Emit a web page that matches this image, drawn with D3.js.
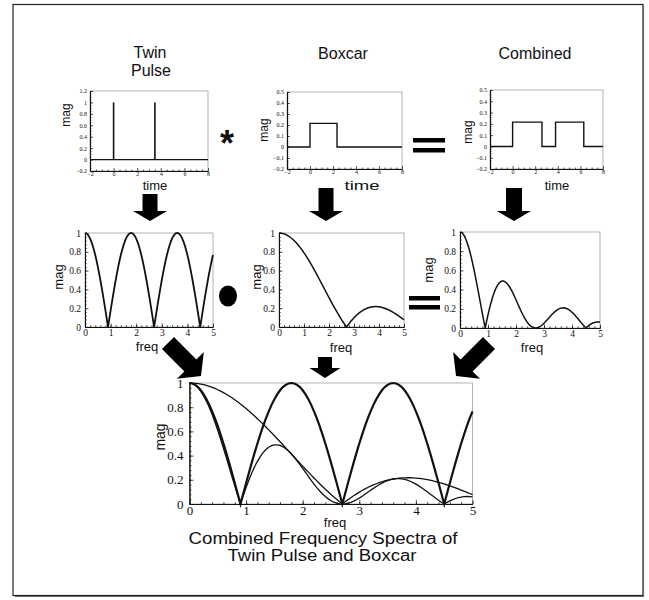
<!DOCTYPE html>
<html>
<head>
<meta charset="utf-8">
<script src="https://cdn.jsdelivr.net/npm/d3@7"></script>
<style>
  body { margin: 0; background: #fff; }
  svg text { font-family: "Liberation Sans", Arial, sans-serif; fill: #111; }
</style>
</head>
<body>
<svg id="fig" width="649" height="600"></svg>
<script>
// ---- tick values ----
const timeTicks = [-2, 0, 2, 4, 6, 8];
const timeMinor = [-1.5, -1, -0.5, 0.5, 1, 1.5, 2.5, 3, 3.5, 4.5, 5, 5.5, 6.5, 7, 7.5];
const pulseMagTicks = [-0.2, 0, 0.2, 0.4, 0.6, 0.8, 1, 1.2];
const boxMagTicks = [-0.2, -0.1, 0, 0.1, 0.2, 0.3, 0.4, 0.5];
const freqTicks = [0, 1, 2, 3, 4, 5];
const freqMagTicks = [0, 0.2, 0.4, 0.6, 0.8, 1];

// ---- time-domain signals ----
const pulseTimes = [0, 3.5];
const pulseHeights = [1, 1];
const boxcarTime = [-2, 0, 0, 2.35, 2.35, 8];
const boxcarMag  = [0, 0, 0.215, 0.215, 0, 0];
const combinedTime = [-2, 0, 0, 2.6, 2.6, 3.8, 3.8, 6.3, 6.3, 8];
const combinedMag  = [0, 0, 0.215, 0.215, 0, 0, 0.215, 0.215, 0, 0];

// ---- frequency spectra, sampled every 0.05 from 0 to 5 ----
const freqStep = 0.05;
const twinPulseSpectrum = [
  1, .9962, .9848, .9659, .9397, .9063, .8660, .8192, .7660, .7071, .6428, .5736, .5, .4226, .3420, .2588, .1736, .0872, 0,
  .0872, .1736, .2588, .3420, .4226, .5, .5736, .6428, .7071, .7660, .8192, .8660, .9063, .9397, .9659, .9848, .9962, 1,
  .9962, .9848, .9659, .9397, .9063, .8660, .8192, .7660, .7071, .6428, .5736, .5, .4226, .3420, .2588, .1736, .0872, 0,
  .0872, .1736, .2588, .3420, .4226, .5, .5736, .6428, .7071, .7660, .8192, .8660, .9063, .9397, .9659, .9848, .9962, 1,
  .9962, .9848, .9659, .9397, .9063, .8660, .8192, .7660, .7071, .6428, .5736, .5, .4226, .3420, .2588, .1736, .0872, 0,
  .0872, .1736, .2588, .3420, .4226, .5, .5736, .6428, .7071, .7660
];
const boxcarSpectrum = [
  1, .9994, .9977, .9949, .9910, .9860, .9798, .9726, .9643, .9549,
  .9445, .9332, .9207, .9073, .8931, .8778, .8617, .8448, .8270, .8084,
  .7891, .7692, .7485, .7272, .7053, .6829, .6600, .6366, .6128, .5887,
  .5642, .5395, .5146, .4895, .4642, .4389, .4135, .3881, .3628, .3376,
  .3126, .2877, .2631, .2387, .2147, .1910, .1677, .1449, .1225, .1006,
  .0793, .0585, .0384, .0189, 0, .0182, .0356, .0524, .0683, .0836,
  .0980, .1116, .1244, .1364, .1476, .1579, .1674, .1760, .1839, .1908,
  .1970, .2023, .2067, .2104, .2133, .2154, .2167, .2172, .2170, .2161,
  .2145, .2122, .2093, .2057, .2015, .1968, .1915, .1857, .1794, .1726,
  .1654, .1578, .1499, .1416, .1330, .1242, .1151, .1058, .0964, .0868,
  .0771
];
const combinedSpectrum = [
  1, .9956, .9825, .9610, .9312, .8936, .8485, .7968, .7387, .6752,
  .6071, .5353, .4604, .3834, .3054, .2272, .1496, .0737, 0, .0705,
  .1370, .1991, .2560, .3073, .3527, .3917, .4242, .4501, .4694, .4823,
  .4886, .4889, .4836, .4728, .4571, .4372, .4135, .3866, .3573, .3261,
  .2937, .2607, .2278, .1955, .1645, .1351, .1078, .0831, .0613, .0425,
  .0271, .0151, .0067, .0016, 0, .0016, .0062, .0136, .0234, .0353,
  .0490, .0640, .0800, .0964, .1131, .1294, .1450, .1595, .1728, .1843,
  .1940, .2015, .2067, .2096, .2101, .2081, .2036, .1968, .1879, .1770,
  .1643, .1500, .1345, .1180, .1008, .0832, .0655, .0481, .0311, .0151,
  0, .0138, .0260, .0366, .0455, .0525, .0576, .0607, .0620, .0614,
  .0591
];

const svg = d3.select("#fig");
const INK = "#111";

// outer frame
svg.append("rect").attr("x", 13).attr("y", 4.5).attr("width", 630).attr("height", 591)
  .attr("fill", "none").attr("stroke", "#222").attr("stroke-width", 1.2);
svg.append("path").attr("d", "M643.5,6 V596.5 H15")
  .attr("fill", "none").attr("stroke", "#666").attr("stroke-width", 1.2);

function minorTicks(domain, step) {
  const out = [];
  for (let v = domain[0]; v <= domain[1] + 1e-9; v += step) out.push(+v.toFixed(4));
  return out;
}

function panel(c) {
  const g = svg.append("g");
  const x = d3.scaleLinear().domain(c.xDomain).range([c.left, c.right]);
  const y = d3.scaleLinear().domain(c.yDomain).range([c.bottom, c.top]);
  g.append("rect").attr("x", c.left).attr("y", c.top)
    .attr("width", c.right - c.left).attr("height", c.bottom - c.top)
    .attr("fill", "none").attr("stroke", "#a0a0a0").attr("stroke-width", 0.8);

  const gx = g.append("g").attr("transform", `translate(0,${c.bottom})`);
  gx.call(d3.axisBottom(x).tickValues(c.xMinor).tickSize(-c.minorLen).tickSizeOuter(0).tickFormat(""));
  gx.append("g").call(d3.axisBottom(x).tickValues(c.xTicks).tickSize(-c.majorLen).tickSizeOuter(0)
    .tickPadding(c.xPad).tickFormat(d3.format("")));
  const gy = g.append("g").attr("transform", `translate(${c.left},0)`);
  gy.call(d3.axisLeft(y).tickValues(c.yMinor).tickSize(-c.minorLen).tickSizeOuter(0).tickFormat(""));
  gy.append("g").call(d3.axisLeft(y).tickValues(c.yTicks).tickSize(-c.majorLen).tickSizeOuter(0)
    .tickPadding(c.yPad).tickFormat(d3.format("")));

  g.selectAll(".domain").attr("stroke", INK).attr("stroke-width", 0.9);
  g.selectAll(".tick line").attr("stroke", INK).attr("stroke-width", 0.7);
  g.selectAll(".tick text").style("font-family", '"Liberation Serif", "Times New Roman", serif')
    .style("font-size", c.tickFont + "px").attr("fill", c.tickColor || "#222");
  return { g, x, y };
}

function label(txt, cx, cy, size, opts = {}) {
  const t = svg.append("text").text(txt)
    .attr("text-anchor", "middle").attr("dominant-baseline", "central")
    .style("font-size", size + "px");
  if (opts.rotate) t.attr("transform", `translate(${cx},${cy}) rotate(-90)`);
  else t.attr("x", cx).attr("y", cy);
  if (opts.width) t.attr("textLength", opts.width).attr("lengthAdjust", "spacingAndGlyphs");
  return t;
}

function arrow(x1, y1, x2, y2, shaftW, headW, headL) {
  const dx = x2 - x1, dy = y2 - y1, L = Math.hypot(dx, dy);
  const ux = dx / L, uy = dy / L, px = -uy, py = ux;
  const bx = x2 - ux * headL, by = y2 - uy * headL;
  const pts = [
    [x1 + px * shaftW / 2, y1 + py * shaftW / 2],
    [bx + px * shaftW / 2, by + py * shaftW / 2],
    [bx + px * headW / 2, by + py * headW / 2],
    [x2, y2],
    [bx - px * headW / 2, by - py * headW / 2],
    [bx - px * shaftW / 2, by - py * shaftW / 2],
    [x1 - px * shaftW / 2, y1 - py * shaftW / 2]
  ];
  svg.append("polygon").attr("points", pts.map(p => p.join(",")).join(" ")).attr("fill", "#000");
}

// ---------- top row: time domain ----------
const topCommon = {
  xDomain: [-2, 8], xTicks: timeTicks, xMinor: timeMinor,
  majorLen: 3, minorLen: 1.5, xPad: 1, yPad: 3, tickFont: 6, tickColor: "#444"
};

const p1 = panel(Object.assign({}, topCommon, {
  left: 90, right: 208, top: 91, bottom: 171,
  yDomain: [-0.2, 1.2], yTicks: pulseMagTicks, yMinor: minorTicks([-0.2, 1.2], 0.05)
}));
p1.g.append("line").attr("x1", p1.x(-2)).attr("x2", p1.x(8)).attr("y1", p1.y(0)).attr("y2", p1.y(0))
  .attr("stroke", INK).attr("stroke-width", 1.3);
p1.g.selectAll(".pulse").data(pulseTimes).join("line")
  .attr("x1", d => p1.x(d)).attr("x2", d => p1.x(d))
  .attr("y1", p1.y(0)).attr("y2", (d, i) => p1.y(pulseHeights[i]))
  .attr("stroke", INK).attr("stroke-width", 1.6);

const timeLine = (p, t, m) => d3.line().x((d, i) => p.x(t[i])).y(d => p.y(d))(m);

const p2 = panel(Object.assign({}, topCommon, {
  left: 287, right: 402, top: 92, bottom: 169,
  yDomain: [-0.2, 0.5], yTicks: boxMagTicks, yMinor: minorTicks([-0.2, 0.5], 0.02)
}));
p2.g.append("path").attr("d", timeLine(p2, boxcarTime, boxcarMag))
  .attr("fill", "none").attr("stroke", INK).attr("stroke-width", 1.4);

const p3 = panel(Object.assign({}, topCommon, {
  left: 490, right: 603, top: 90, bottom: 169,
  yDomain: [-0.2, 0.5], yTicks: boxMagTicks, yMinor: minorTicks([-0.2, 0.5], 0.02)
}));
p3.g.append("path").attr("d", timeLine(p3, combinedTime, combinedMag))
  .attr("fill", "none").attr("stroke", INK).attr("stroke-width", 1.4);

// ---------- middle row: spectra ----------
const midCommon = {
  xDomain: [0, 5], xTicks: freqTicks, xMinor: minorTicks([0, 5], 0.2),
  yDomain: [0, 1], yTicks: freqMagTicks, yMinor: minorTicks([0, 1], 0.04),
  majorLen: 3.5, minorLen: 1.8, xPad: 2, yPad: 4, tickFont: 9.5
};
const specLine = (p) => d3.line().x((d, i) => p.x(i * freqStep)).y(d => p.y(d));

const p4 = panel(Object.assign({}, midCommon, { left: 85, right: 213, top: 233, bottom: 327 }));
p4.g.append("path").attr("d", specLine(p4)(twinPulseSpectrum))
  .attr("fill", "none").attr("stroke", INK).attr("stroke-width", 1.8);

const p5 = panel(Object.assign({}, midCommon, { left: 279, right: 404, top: 233, bottom: 327 }));
p5.g.append("path").attr("d", specLine(p5)(boxcarSpectrum))
  .attr("fill", "none").attr("stroke", INK).attr("stroke-width", 1.5);

const p6 = panel(Object.assign({}, midCommon, { left: 460, right: 600, top: 232, bottom: 328 }));
p6.g.append("path").attr("d", specLine(p6)(combinedSpectrum))
  .attr("fill", "none").attr("stroke", INK).attr("stroke-width", 1.5);

// ---------- bottom: all three spectra together ----------
const p7 = panel(Object.assign({}, midCommon, {
  left: 189.5, right: 472.5, top: 383, bottom: 504,
  majorLen: 4, minorLen: 2, xPad: 2, yPad: 6, tickFont: 13
}));
p7.g.append("path").attr("d", specLine(p7)(twinPulseSpectrum))
  .attr("fill", "none").attr("stroke", INK).attr("stroke-width", 2.2);
p7.g.append("path").attr("d", specLine(p7)(boxcarSpectrum))
  .attr("fill", "none").attr("stroke", INK).attr("stroke-width", 1.3);
p7.g.append("path").attr("d", specLine(p7)(combinedSpectrum))
  .attr("fill", "none").attr("stroke", INK).attr("stroke-width", 1.3);

// ---------- titles and axis names ----------
label("Twin", 150, 52, 16);
label("Pulse", 151, 70, 16);
label("Boxcar", 343, 53, 16);
label("Combined", 535, 53, 16);

label("time", 155, 185, 13);
label("time", 362, 185, 13, { width: 35 });
label("time", 557, 185, 13);
label("mag", 66, 115, 12, { rotate: true });
label("mag", 264, 130, 12, { rotate: true });
label("mag", 468, 132, 12, { rotate: true });

label("freq", 147, 346, 13);
label("freq", 341, 347, 13);
label("freq", 532, 347, 13);
label("mag", 58, 277, 13, { rotate: true });
label("mag", 256, 277, 13, { rotate: true });
label("mag", 428, 270, 13, { rotate: true });

label("freq", 335, 522, 13);
label("mag", 160, 437, 14, { rotate: true });
label("Combined Frequency Spectra of", 323, 538, 16, { width: 269 });
label("Twin Pulse and Boxcar", 322, 555, 16, { width: 189 });

// ---------- operators ----------
svg.append("text").text("*").attr("x", 227).attr("y", 156).attr("text-anchor", "middle")
  .style("font-size", "36px").style("font-weight", "bold");
[[413, 138], [413, 148]].forEach(([x, y]) =>
  svg.append("rect").attr("x", x).attr("y", y).attr("width", 32).attr("height", 4.5).attr("fill", "#000"));
svg.append("ellipse").attr("cx", 228).attr("cy", 296).attr("rx", 9).attr("ry", 10.5).attr("fill", "#000");
[[409, 296], [409, 305]].forEach(([x, y]) =>
  svg.append("rect").attr("x", x).attr("y", y).attr("width", 31).attr("height", 4.5).attr("fill", "#000"));

// ---------- arrows ----------
arrow(150, 194, 150, 221, 15, 34, 10);
arrow(326, 188, 326, 221, 15, 34, 10);
arrow(514, 188, 514, 221, 16, 34, 10);
arrow(325, 357, 325, 378, 14, 31, 10);
arrow(168, 343, 201, 376, 17, 38, 15);
arrow(489, 343, 456, 376, 17, 38, 15);
</script>
</body>
</html>
